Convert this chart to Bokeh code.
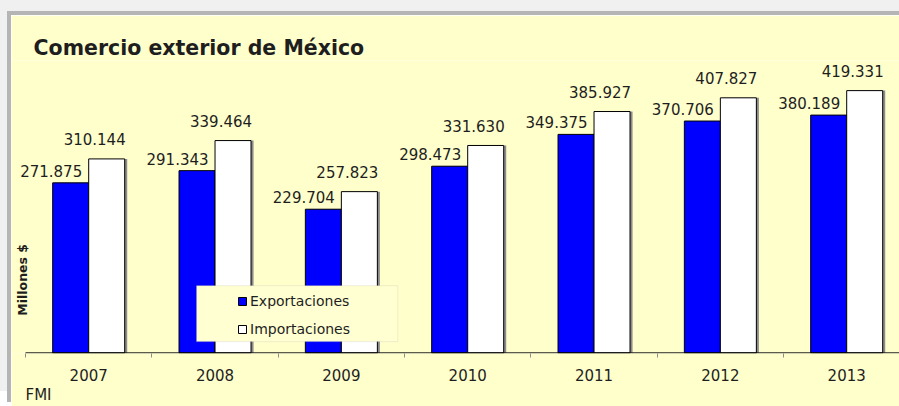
import math

from bokeh.core.properties import value
from bokeh.embed import file_html
from bokeh.models import (BoxAnnotation, ColumnDataSource, FixedTicker, Label,
                          LabelSet, Legend, LegendItem, Range1d, Title)
from bokeh.plotting import figure
from bokeh.resources import INLINE
from bokeh.transform import dodge

# --- data (millones de dólares) ---
years = [2007, 2008, 2009, 2010, 2011, 2012, 2013]
year_labels = ["2007", "2008", "2009", "2010", "2011", "2012", "2013"]
exportaciones = [271.875, 291.343, 229.704, 298.473, 349.375, 370.706, 380.189]
importaciones = [310.144, 339.464, 257.823, 331.630, 385.927, 407.827, 419.331]

FONT = "DejaVu Sans"
TEXT = "#1e1e1e"
PANEL = "#ffffcc"
BAR_W = 0.285
SHIFT = 0.1425

src = ColumnDataSource(dict(
    year=years,
    exp=exportaciones,
    imp=importaciones,
    exp_txt=[f"{v:.3f}" for v in exportaciones],
    imp_txt=[f"{v:.3f}" for v in importaciones],
))

p = figure(width=888, height=391,
           x_range=Range1d(2006.389, 2013.418), y_range=Range1d(-1, 467.5),
           output_backend="svg", toolbar_location=None,
           min_border_left=0, min_border_right=0,
           min_border_top=45, min_border_bottom=53)
p.margin = (15, 0, 0, 11)
p.styles = {"box-shadow": "-4px -4px 0 0 #b5b5b5, 0 -4px 0 0 #b5b5b5, "
                          "-11px -15px 0 0 #f0f0f0, 0 -15px 0 0 #f0f0f0"}

p.background_fill_color = PANEL
p.border_fill_color = PANEL
p.outline_line_color = None
p.xgrid.visible = False
p.ygrid.visible = False
p.yaxis.visible = False

# soft shadow to the right of each bar
shadow_dx = 0.02
p.vbar(x=dodge("year", -SHIFT + shadow_dx), top="exp", width=BAR_W, source=src,
       fill_color="#8c8c8c", line_color=None)
p.vbar(x=dodge("year", SHIFT + shadow_dx), top="imp", width=BAR_W, source=src,
       fill_color="#8c8c8c", line_color=None)

exp_r = p.vbar(x=dodge("year", -SHIFT), top="exp", width=BAR_W, source=src,
               fill_color="#0000ff", line_color="black", line_width=1)
imp_r = p.vbar(x=dodge("year", SHIFT), top="imp", width=BAR_W, source=src,
               fill_color="white", line_color="black", line_width=1)

# baseline under the year groups
p.segment(x0=years[0] - 0.5, x1=years[-1] + 0.5, y0=0, y1=0,
          line_color="black", line_width=1)

# value labels
p.add_layout(LabelSet(x=dodge("year", -SHIFT), y="exp", text="exp_txt", source=src,
                      x_offset=-19.5, y_offset=6, text_align="center",
                      text_baseline="alphabetic", text_font=value(FONT),
                      text_font_size="15px", text_color=TEXT))
p.add_layout(LabelSet(x=dodge("year", SHIFT), y="imp", text="imp_txt", source=src,
                      x_offset=-12, y_offset=13.5, text_align="center",
                      text_baseline="alphabetic", text_font=value(FONT),
                      text_font_size="15px", text_color=TEXT))

# x axis: years at the centres, small ticks between groups
xa = p.xaxis[0]
xa.ticker = FixedTicker(ticks=years, minor_ticks=[y - 0.5 for y in years] + [years[-1] + 0.5])
xa.major_label_overrides = {y: lab for y, lab in zip(years, year_labels)}
xa.axis_line_color = None
xa.major_tick_line_color = None
xa.major_tick_in = 0
xa.major_tick_out = 0
xa.minor_tick_line_color = "#8c8c8c"
xa.minor_tick_in = 0
xa.minor_tick_out = 4
xa.major_label_standoff = 11
xa.major_label_text_font = FONT
xa.major_label_text_font_size = "15px"
xa.major_label_text_color = TEXT

# title
p.title.text = "Comercio exterior de México"
p.title.align = "left"
p.title.offset = 22
p.title.standoff = 1
p.title.text_font = FONT
p.title.text_font_style = "bold"
p.title.text_font_size = "20.5px"
p.title.text_color = TEXT

# source note
p.add_layout(Title(text="FMI", align="left", offset=14, standoff=0,
                   text_font=FONT, text_font_style="normal",
                   text_font_size="15px", text_color=TEXT), "below")

# vertical unit label
p.add_layout(Label(x=years[0] - 0.5, y=0, x_offset=-3.5, y_offset=73, text="Millones $",
                   angle=math.pi / 2, text_align="center", text_baseline="middle",
                   text_font=FONT, text_font_style="bold", text_font_size="12.5px",
                   text_color=TEXT))

# legend frame and legend
p.add_layout(BoxAnnotation(left=2007.854, right=2009.447, bottom=18.0, top=107.5,
                           fill_color="#ffffd2", fill_alpha=1,
                           line_color="#c8c8b4", line_width=1))
legend = Legend(items=[LegendItem(label="Exportaciones", renderers=[exp_r]),
                       LegendItem(label="Importaciones", renderers=[imp_r])],
                location=(226, 15), orientation="vertical",
                glyph_width=10, glyph_height=10, label_standoff=3,
                label_height=18, spacing=10, padding=0, margin=0,
                background_fill_alpha=0, border_line_color=None,
                label_text_font=FONT, label_text_font_size="14px",
                label_text_color=TEXT)
p.add_layout(legend, "center")

open("out.html", "w").write(file_html(p, INLINE))
